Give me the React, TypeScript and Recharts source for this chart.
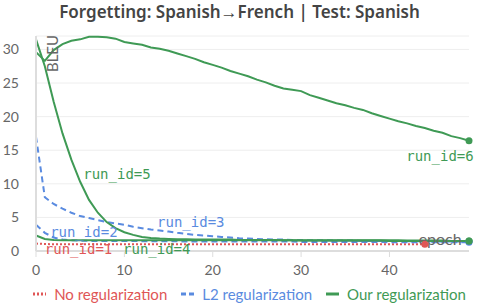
import { LineChart, Line, XAxis, YAxis, CartesianGrid, Legend, ReferenceDot } from 'recharts';

const epochs = [
  0, 1, 2, 3, 4, 5, 6, 7, 8, 9, 10, 11, 12, 13, 14, 15, 16, 17, 18, 19, 20, 21, 22, 23, 24,
  25, 26, 27, 28, 29, 30, 31, 32, 33, 34, 35, 36, 37, 38, 39, 40, 41, 42, 43, 44, 45, 46, 47, 48, 49,
];

// No regularization
const run1 = [
  1.1, 1.05, 1.0, 1.0, 1.0, 1.0, 1.0, 1.0, 1.0, 1.0, 1.0, 1.0, 1.0, 1.0, 1.0, 1.0, 1.0, 1.0, 1.0, 1.0,
  1.0, 1.0, 1.0, 1.0, 1.0, 1.0, 1.0, 1.0, 1.0, 1.0, 1.0, 1.0, 1.0, 1.0, 1.0, 1.0, 1.0, 1.0, 1.0, 1.0,
  1.0, 1.0, 1.0, 1.0, 1.0,
];

// L2 regularization
const run2 = [
  3.9, 2.7, 2.0, 1.7, 1.6, 1.55, 1.5, 1.5, 1.5, 1.5, 1.5, 1.5, 1.45, 1.45, 1.45, 1.45, 1.45, 1.4, 1.4, 1.4,
  1.4, 1.4, 1.4, 1.4, 1.4, 1.4, 1.4, 1.4, 1.4, 1.4, 1.35, 1.35, 1.35, 1.35, 1.35, 1.35, 1.35, 1.35, 1.35, 1.35,
  1.3, 1.3, 1.3, 1.3, 1.3, 1.3, 1.3, 1.3, 1.3, 1.3,
];
const run3 = [
  17.0, 8.0, 7.0, 6.3, 5.7, 5.2, 4.9, 4.6, 4.3, 4.1, 3.9, 3.6, 3.4, 3.2, 3.05, 2.9, 2.7, 2.55, 2.4, 2.3,
  2.2, 2.1, 2.0, 1.9, 1.85, 1.8, 1.75, 1.7, 1.7, 1.65, 1.65, 1.6, 1.6, 1.6, 1.55, 1.55, 1.55, 1.5, 1.5, 1.5,
  1.5, 1.5, 1.45, 1.45, 1.45, 1.45, 1.4, 1.4, 1.4, 1.4,
];

// Our regularization
const run4 = [
  2.3, 1.8, 1.65, 1.6, 1.6, 1.6, 1.6, 1.6, 1.6, 1.6, 1.6, 1.6, 1.6, 1.6, 1.6, 1.6, 1.6, 1.6, 1.6, 1.6,
  1.6, 1.6, 1.6, 1.6, 1.6, 1.6, 1.6, 1.6, 1.6, 1.6, 1.55, 1.55, 1.55, 1.55, 1.55, 1.55, 1.55, 1.55, 1.55, 1.55,
  1.5, 1.5, 1.5, 1.5, 1.5, 1.5, 1.5, 1.5, 1.5, 1.5,
];
const run5 = [
  31.5, 27.5, 22.2, 17.5, 13.6, 10.3, 7.6, 5.7, 4.3, 3.4, 2.8, 2.4, 2.1, 1.95, 1.85, 1.8, 1.75, 1.75, 1.7, 1.7,
  1.7, 1.7, 1.7, 1.65, 1.65, 1.65, 1.65, 1.65, 1.6, 1.6, 1.6, 1.6, 1.6, 1.6, 1.6, 1.6, 1.6, 1.6, 1.6, 1.6,
  1.6, 1.6, 1.55, 1.55, 1.55, 1.55, 1.55, 1.5, 1.5, 1.5,
];
const run6 = [
  29.6, 28.3, 29.9, 30.8, 31.3, 31.5, 31.9, 31.9, 31.8, 31.6, 31.1, 30.9, 30.7, 30.3, 30.1, 29.8, 29.4, 29.0, 28.6, 28.1,
  27.7, 27.3, 26.8, 26.4, 26.0, 25.5, 25.1, 24.6, 24.2, 24.0, 23.8, 23.2, 22.8, 22.4, 22.0, 21.7, 21.3, 21.0, 20.5, 20.1,
  19.7, 19.3, 19.0, 18.6, 18.3, 17.9, 17.6, 17.1, 16.8, 16.4,
];

const xTicks = [0, 10, 20, 30, 40];
const yTicks = [0, 5, 10, 15, 20, 25, 30];

const RED = '#e05656';
const BLUE = '#5a8be0';
const GREEN = '#3f9a55';

const data = epochs.map((epoch, i) => ({
  epoch,
  r1: run1[i],
  r2: run2[i],
  r3: run3[i],
  r4: run4[i],
  r5: run5[i],
  r6: run6[i],
}));

const series = [
  { key: 'r1', color: RED, dash: '2 2', last: run1.length - 1 },
  { key: 'r2', color: BLUE, dash: '6 4', last: run2.length - 1 },
  { key: 'r3', color: BLUE, dash: '6 4', last: run3.length - 1 },
  { key: 'r4', color: GREEN, dash: undefined, last: run4.length - 1 },
  { key: 'r5', color: GREEN, dash: undefined, last: run5.length - 1 },
  { key: 'r6', color: GREEN, dash: undefined, last: run6.length - 1 },
];

// run labels, anchored in data coordinates (left edge, vertical middle)
const runLabels = [
  { text: 'run_id=1', epoch: 1.0, value: 0.35, color: RED },
  { text: 'run_id=2', epoch: 1.6, value: 2.85, color: BLUE },
  { text: 'run_id=3', epoch: 13.7, value: 4.3, color: BLUE },
  { text: 'run_id=4', epoch: 9.85, value: 0.35, color: GREEN },
  { text: 'run_id=5', epoch: 5.35, value: 11.5, color: GREEN },
  { text: 'run_id=6', epoch: 41.9, value: 14.2, color: GREEN },
];

const legendItems = [
  { name: 'No regularization', color: RED, dash: '2 2' },
  { name: 'L2 regularization', color: BLUE, dash: '5 3' },
  { name: 'Our regularization', color: GREEN, dash: undefined },
];

const SANS = 'Lato, "Noto Sans", sans-serif';
const MONO = '"DejaVu Sans Mono", monospace';

const LegendContent = () => (
  <div
    style={{
      height: 24,
      display: 'flex',
      justifyContent: 'center',
      alignItems: 'center',
      gap: 14,
      fontFamily: SANS,
      fontSize: 15,
      paddingLeft: 30,
    }}
  >
    {legendItems.map(item => (
      <div key={item.name} style={{ display: 'flex', alignItems: 'center', color: item.color }}>
        <svg width={13} height={4} style={{ marginRight: 8 }}>
          <line x1={0} y1={2} x2={13} y2={2} stroke={item.color} strokeWidth={3} strokeDasharray={item.dash} />
        </svg>
        {item.name}
      </div>
    ))}
  </div>
);

export default function App() {
  return (
    <div style={{ position: 'relative', width: 479, height: 306, background: '#fff' }}>
      <style>{'body{margin:0}'}</style>
      <div
        style={{
          position: 'absolute',
          top: 0,
          left: 0,
          width: 479,
          textAlign: 'center',
          fontFamily: '"Noto Sans", sans-serif',
          fontWeight: 600,
          fontSize: 17,
          color: '#444',
          zIndex: 1,
        }}
      >
        Forgetting: Spanish→French | Test: Spanish
      </div>
      <LineChart width={479} height={306} data={data} margin={{ top: 36, right: 10, bottom: 0, left: 0 }}>
        <CartesianGrid vertical={false} stroke="#eeeeee" />
        <XAxis
          dataKey="epoch"
          type="number"
          domain={[0, 49]}
          ticks={xTicks}
          height={31}
          tickSize={6}
          tickMargin={8}
          axisLine={{ stroke: '#dddddd', strokeWidth: 2 }}
          tickLine={{ stroke: '#dddddd' }}
          tick={{ fill: '#666', fontSize: 14, fontFamily: SANS }}
        />
        <YAxis
          type="number"
          domain={[0, 32]}
          ticks={yTicks}
          width={36}
          tickSize={15}
          tickMargin={2}
          tickLine={false}
          axisLine={{ stroke: '#dddddd', strokeWidth: 2 }}
          tick={{ fill: '#666', fontSize: 14, fontFamily: SANS }}
        />
        {series.map(s => (
          <Line
            key={s.key}
            dataKey={s.key}
            type="linear"
            stroke={s.color}
            strokeWidth={2}
            strokeDasharray={s.dash}
            isAnimationActive={false}
            activeDot={false}
            dot={(p: any) =>
              p.index === s.last && p.cy != null ? (
                <circle key={`${s.key}-end`} cx={p.cx} cy={p.cy} r={3.5} fill={s.color} stroke="none" />
              ) : (
                <g key={`${s.key}-${p.index}`} />
              )
            }
          />
        ))}
        {runLabels.map(l => (
          <ReferenceDot
            key={l.text}
            x={l.epoch}
            y={l.value}
            r={0}
            fill="none"
            stroke="none"
            label={(p: any) => (
              <text
                x={p.viewBox.x}
                y={p.viewBox.y}
                dominantBaseline="central"
                fill={l.color}
                fontFamily={MONO}
                fontSize={14}
              >
                {l.text}
              </text>
            )}
          />
        ))}
        <ReferenceDot
          x={1.8}
          y={29.4}
          r={0}
          fill="none"
          stroke="none"
          label={(p: any) => (
            <text
              x={p.viewBox.x}
              y={p.viewBox.y}
              transform={`rotate(-90 ${p.viewBox.x} ${p.viewBox.y})`}
              textAnchor="middle"
              dominantBaseline="central"
              fill="#666"
              fontFamily={SANS}
              fontSize={15}
            >
              BLEU
            </text>
          )}
        />
        <ReferenceDot
          x={43.3}
          y={1.85}
          r={0}
          fill="none"
          stroke="none"
          label={(p: any) => (
            <text
              x={p.viewBox.x}
              y={p.viewBox.y}
              dominantBaseline="central"
              fill="#666"
              fontFamily={SANS}
              fontSize={16}
            >
              epoch
            </text>
          )}
        />
        <Legend verticalAlign="bottom" content={() => <LegendContent />} />
      </LineChart>
    </div>
  );
}
